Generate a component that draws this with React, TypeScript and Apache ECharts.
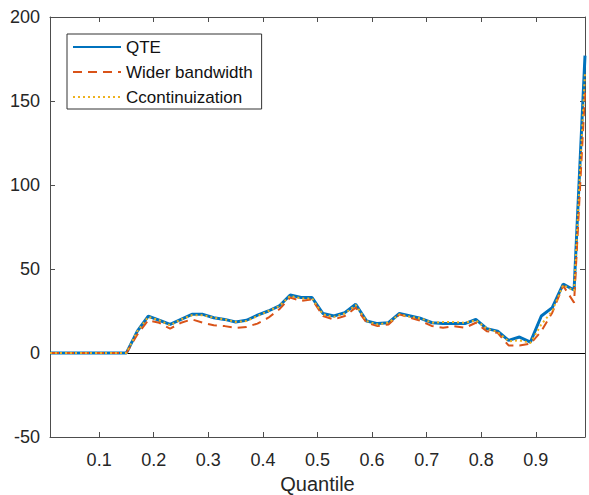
import React, { useEffect, useRef } from "react";
import * as echarts from "echarts";

const quantiles: number[] = [
  0.01, 0.03, 0.05, 0.07, 0.09, 0.11, 0.13, 0.15, 0.17, 0.19,
  0.21, 0.23, 0.25, 0.27, 0.29, 0.31, 0.33, 0.35, 0.37, 0.39,
  0.41, 0.43, 0.45, 0.47, 0.49, 0.51, 0.53, 0.55, 0.57, 0.59,
  0.61, 0.63, 0.65, 0.67, 0.69, 0.71, 0.73, 0.75, 0.77, 0.79,
  0.81, 0.83, 0.85, 0.87, 0.89, 0.91, 0.93, 0.95, 0.97, 0.99,
];

const qte: number[] = [
  0, 0, 0, 0, 0, 0, 0, 0, 13, 22,
  19.5, 17, 20, 23, 23, 21, 20, 18.5, 19.5, 22.5,
  25, 28, 34.5, 33, 33, 23.5, 22, 24, 29, 19,
  17.5, 18, 23.5, 22, 20.5, 18, 17.5, 17.5, 17.5, 20,
  14.5, 13, 7.5, 9.5, 6.5, 22, 27, 41, 37.5, 177,
];

const wider: number[] = [
  0, 0, 0, 0, 0, 0, 0, 0, 11, 19.5,
  18, 14.5, 18, 20, 18, 16.5, 16, 15, 15.5, 17.5,
  21, 26, 33, 31, 32, 22, 20, 22, 27, 18,
  16, 17, 23, 21, 19, 16, 15, 16, 15, 18,
  13, 12, 4.5, 4.5, 5.5, 13, 24, 40, 30, 155,
];

const contin: number[] = [
  0, 0, 0, 0, 0, 0, 0, 0, 13, 21.5,
  19.5, 16.5, 20, 22.5, 22.5, 21, 20, 18.5, 19, 22,
  25, 28, 34, 32.5, 32.5, 23, 21.5, 23.5, 28.5, 19,
  17, 18, 23, 21.5, 20.5, 18, 18.5, 18.5, 18, 19.5,
  14.5, 12.5, 7, 7.5, 6, 17, 25, 40.5, 37, 167,
];

const xTicks: number[] = [0.1, 0.2, 0.3, 0.4, 0.5, 0.6, 0.7, 0.8, 0.9];

const seriesNames = ["QTE", "Wider bandwidth", "Ccontinuization"];

export default function App() {
  const ref = useRef<HTMLDivElement>(null);
  useEffect(() => {
    if (!ref.current) return;
    const chart = echarts.init(ref.current, undefined, { renderer: "svg" });
    const font = "Liberation Sans, Arial, Helvetica, sans-serif";
    const axisColor = "#4d4d4d";
    const textColor = "#262626";
    const pair = (arr: number[]) => quantiles.map((q, i) => [q, arr[i]]);
    chart.setOption({
      animation: false,
      backgroundColor: "#ffffff",
      grid: { left: 50, right: 4, top: 17, bottom: 58, containLabel: false, outerBoundsMode: "none" },
      legend: {
        show: true,
        orient: "vertical",
        left: 67,
        top: 34,
        data: seriesNames,
        itemWidth: 48,
        itemHeight: 18,
        itemGap: 7,
        padding: [4, 9, 3, 5],
        borderColor: "#333333",
        borderWidth: 1,
        backgroundColor: "#ffffff",
        itemStyle: { opacity: 0 },
        textStyle: { fontFamily: font, fontSize: 17, color: "#111111", lineHeight: 18 },
      },
      xAxis: [
        {
          type: "value",
          min: 0.01,
          max: 0.99,
          name: "Quantile",
          nameLocation: "middle",
          nameGap: 37,
          nameTextStyle: { fontFamily: font, fontSize: 20, color: textColor },
          axisLine: { show: true, onZero: false, lineStyle: { color: axisColor, width: 1 } },
          axisTick: { show: true, inside: true, length: 5, customValues: xTicks, lineStyle: { color: axisColor } },
          axisLabel: {
            customValues: xTicks,
            fontFamily: font,
            fontSize: 18,
            color: textColor,
            margin: 14,
            formatter: (v: number) => v.toFixed(1),
          },
          splitLine: { show: false },
        },
        {
          type: "value",
          position: "top",
          min: 0.01,
          max: 0.99,
          axisLine: { show: true, onZero: false, lineStyle: { color: axisColor, width: 1 } },
          axisTick: { show: true, inside: true, length: 5, customValues: xTicks, lineStyle: { color: axisColor } },
          axisLabel: { show: false, customValues: xTicks },
          splitLine: { show: false },
        },
      ],
      yAxis: [
        {
          type: "value",
          min: -50,
          max: 200,
          interval: 50,
          axisLine: { show: true, onZero: false, lineStyle: { color: axisColor, width: 1 } },
          axisTick: { show: true, inside: true, length: 5, lineStyle: { color: axisColor } },
          axisLabel: { fontFamily: font, fontSize: 18, color: textColor, margin: 10 },
          splitLine: { show: false },
        },
        {
          type: "value",
          position: "right",
          min: -50,
          max: 200,
          interval: 50,
          axisLine: { show: true, onZero: false, lineStyle: { color: axisColor, width: 1 } },
          axisTick: { show: true, inside: true, length: 5, lineStyle: { color: axisColor } },
          axisLabel: { show: false },
          splitLine: { show: false },
        },
      ],
      series: [
        {
          name: "QTE",
          type: "line",
          data: pair(qte),
          symbol: "none",
          color: "#0072BD",
          lineStyle: { color: "#0072BD", width: 3 },
          z: 2,
          markLine: {
            silent: true,
            symbol: ["none", "none"],
            label: { show: false },
            lineStyle: { color: "#000000", width: 1, type: "solid" },
            data: [{ yAxis: 0 }],
            z: 1,
          },
        },
        {
          name: "Wider bandwidth",
          type: "line",
          data: pair(wider),
          symbol: "none",
          color: "#D95319",
          lineStyle: { color: "#D95319", width: 2, type: [9, 6] },
          z: 3,
        },
        {
          name: "Ccontinuization",
          type: "line",
          data: pair(contin),
          symbol: "none",
          color: "#EDB120",
          lineStyle: { color: "#EDB120", width: 2, type: [2, 3] },
          z: 4,
        },
      ],
    });
    return () => chart.dispose();
  }, []);
  return <div ref={ref} style={{ width: 589, height: 495, position: "absolute", left: 0, top: 0 }} />;
}
